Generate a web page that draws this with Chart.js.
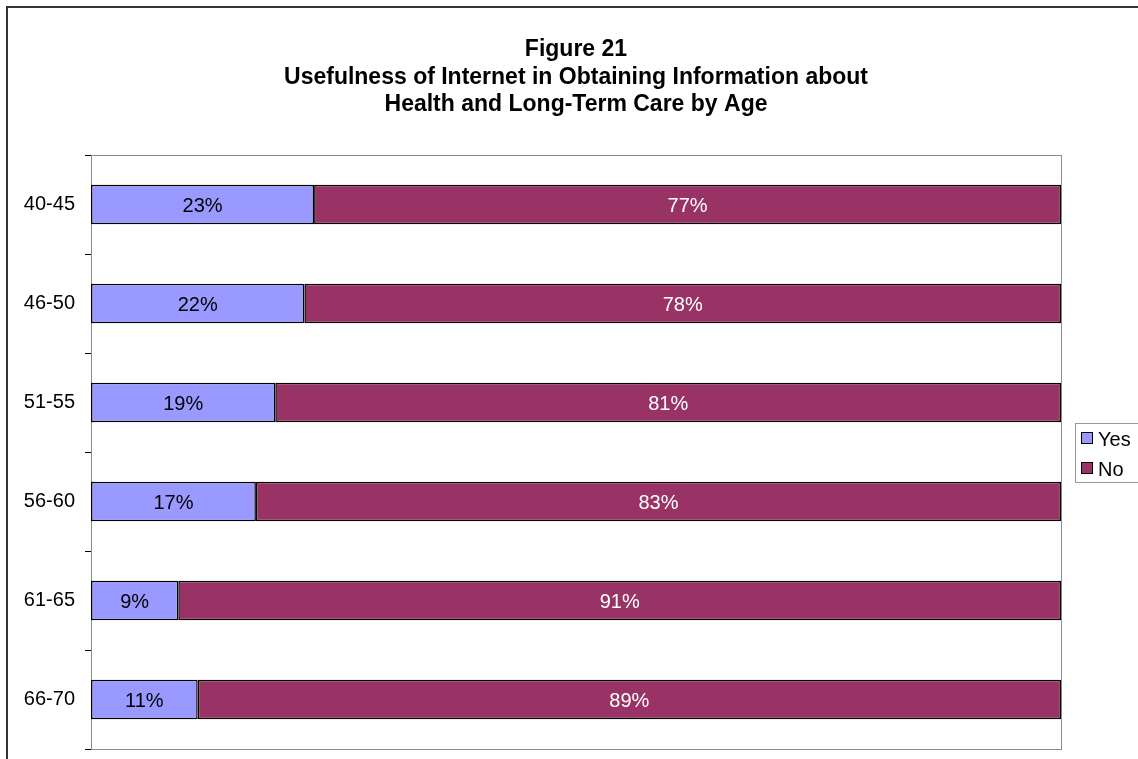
<!DOCTYPE html>
<html>
<head>
<meta charset="utf-8">
<script src="https://cdn.jsdelivr.net/npm/chart.js@4.4.1/dist/chart.umd.min.js"></script>
<style>
  html, body { margin: 0; padding: 0; background: #fff; }
  #wrap { width: 1138px; height: 759px; position: relative; }
</style>
</head>
<body>
<div id="wrap"><canvas id="ageChart" width="1138" height="759"></canvas></div>
<script>
// Age groups and survey shares (percent)
const ageGroups = ['40-45', '46-50', '51-55', '56-60', '61-65', '66-70'];
const yesValues = [23, 22, 19, 17, 9, 11];
const noValues = [77, 78, 81, 83, 91, 89];
const titleLines = [
    'Figure 21',
    'Usefulness of Internet in Obtaining Information about',
    'Health and Long-Term Care by Age'
];

const FONT = "Arial, 'Liberation Sans', sans-serif";

// Frame, title, plot border, value labels and legend box
const decorations = {
    id: 'decorations',
    beforeDatasetsDraw(chart) {
        const { ctx, chartArea: a } = chart;
        ctx.save();
        ctx.strokeStyle = '#8c8c8c';
        ctx.lineWidth = 1;
        ctx.strokeRect(a.left + 0.5, a.top + 0.5, a.right - a.left, a.bottom - a.top);
        ctx.restore();
    },
    afterDraw(chart) {
        const { ctx } = chart;
        ctx.save();

        // outer frame
        ctx.strokeStyle = '#333';
        ctx.lineWidth = 2;
        ctx.strokeRect(7, 7, 1200, 800);

        // title
        ctx.fillStyle = '#000';
        ctx.font = 'bold 23px ' + FONT;
        ctx.textAlign = 'center';
        ctx.textBaseline = 'middle';
        titleLines.forEach((line, i) => ctx.fillText(line, 576, 50 + i * 27.5));

        // value labels inside the bars
        ctx.font = '20px ' + FONT;
        chart.data.datasets.forEach((ds, di) => {
            chart.getDatasetMeta(di).data.forEach((bar, i) => {
                const cx = (bar.base + bar.x) / 2;
                ctx.fillStyle = di === 0 ? '#000' : '#fff';
                ctx.fillText(ds.data[i] + '%', cx, bar.y + 2);
            });
        });

        // legend
        ctx.fillStyle = '#fff';
        ctx.fillRect(1075, 423, 80, 59);
        ctx.strokeStyle = '#999';
        ctx.lineWidth = 1;
        ctx.strokeRect(1075.5, 423.5, 80, 59);
        ctx.textAlign = 'left';
        chart.data.datasets.forEach((ds, di) => {
            const y = 438 + di * 30;
            ctx.fillStyle = ds.backgroundColor;
            ctx.fillRect(1081, y - 6, 12, 12);
            ctx.strokeStyle = '#000';
            ctx.strokeRect(1081.5, y - 5.5, 11, 11);
            ctx.fillStyle = '#000';
            ctx.fillText(ds.label, 1098, y + 2);
        });
        ctx.restore();
    }
};

new Chart(document.getElementById('ageChart').getContext('2d'), {
    type: 'bar',
    data: {
        labels: ageGroups,
        datasets: [
            { label: 'Yes', data: yesValues, backgroundColor: '#9999ff' },
            { label: 'No', data: noValues, backgroundColor: '#993366' }
        ]
    },
    options: {
        indexAxis: 'y',
        responsive: false,
        animation: false,
        events: [],
        datasets: {
            bar: {
                borderColor: '#000',
                borderWidth: 1.5,
                borderSkipped: false,
                inflateAmount: 0,
                categoryPercentage: 1,
                barPercentage: 0.4
            }
        },
        layout: { padding: { top: 155, right: 77, bottom: 10, left: 0 } },
        plugins: {
            legend: { display: false },
            title: { display: false },
            tooltip: { enabled: false }
        },
        scales: {
            x: {
                stacked: true,
                min: 0,
                max: 100,
                display: false
            },
            y: {
                stacked: true,
                afterFit(scale) {
                    scale.width = 91;
                    // labels sit mid-category, so no overflow room is needed
                    scale.paddingTop = 0;
                    scale.paddingBottom = 0;
                },
                border: { color: '#000', width: 1 },
                grid: {
                    offset: true,
                    drawOnChartArea: false,
                    color: '#000',
                    tickLength: 6
                },
                ticks: {
                    color: '#000',
                    padding: 10,
                    font: { family: FONT, size: 20 }
                }
            }
        }
    },
    plugins: [decorations]
});
</script>
</body>
</html>
